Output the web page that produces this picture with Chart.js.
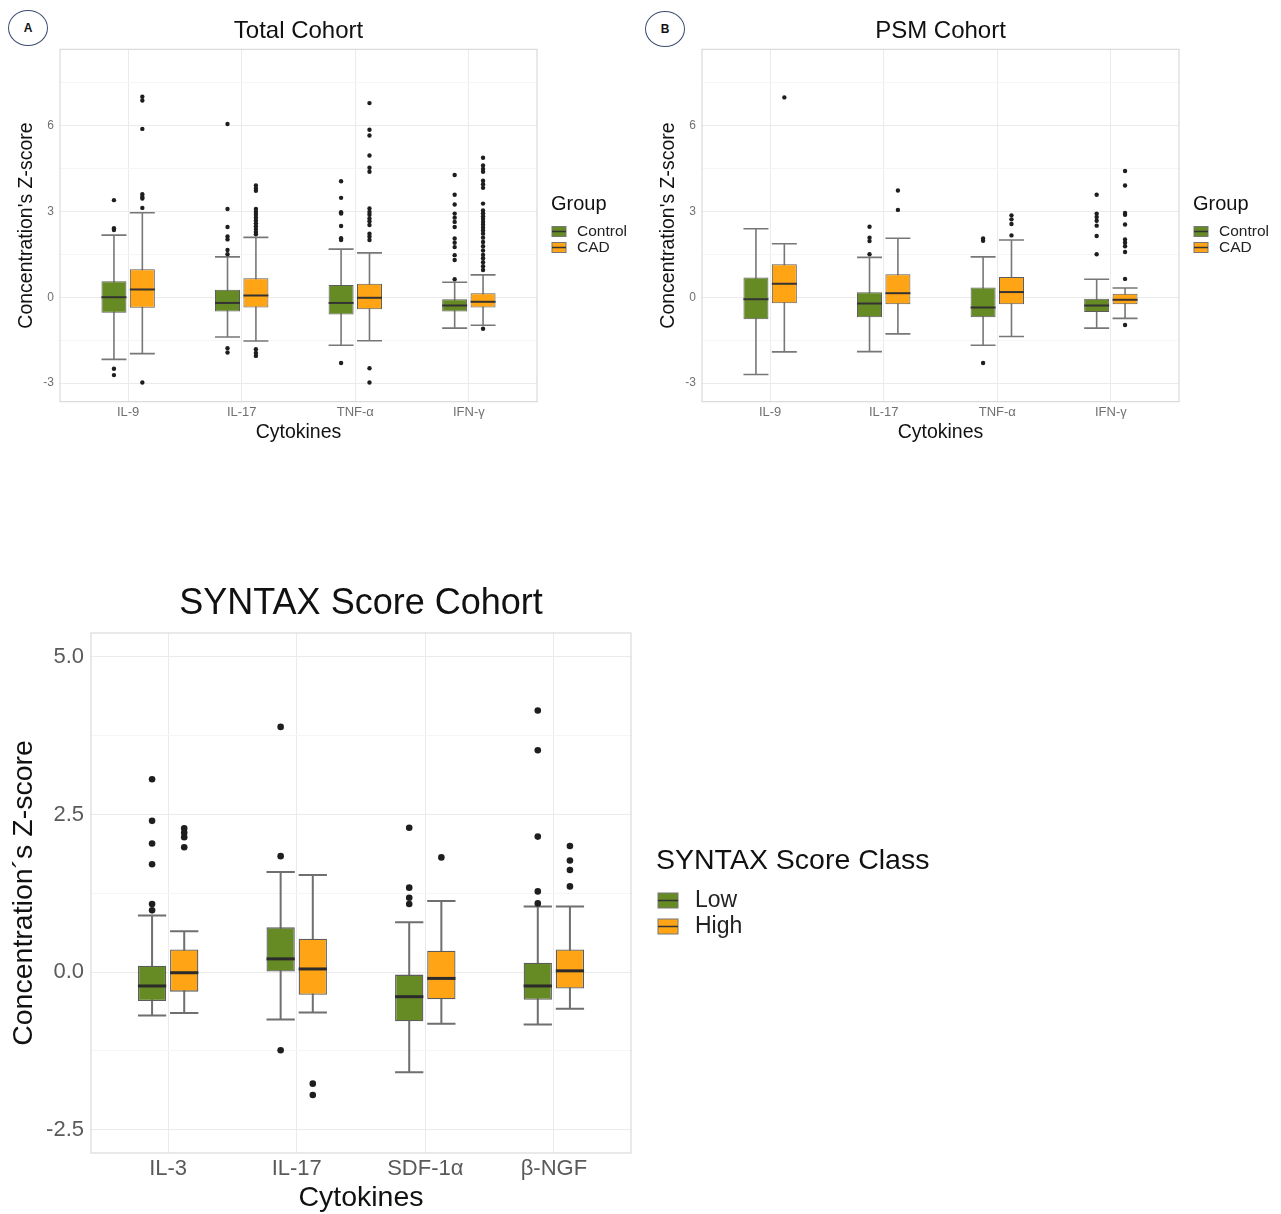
<!DOCTYPE html>
<html>
<head>
<meta charset="utf-8">
<title>Cytokine Z-scores</title>
<script src="https://cdn.jsdelivr.net/npm/chart.js@4.4.0/dist/chart.umd.min.js"></script>
<style>
  body { margin: 0; background: #fff; width: 1281px; height: 1214px; position: relative; overflow: hidden; }
  .panel { position: absolute; }
  .panel canvas { display: block; }
  .tag {
    position: absolute; box-sizing: border-box; width: 40px; height: 36px;
    border: 1.4px solid #3e4d70; border-radius: 50%;
    font: bold 12px "Liberation Sans", Arial, sans-serif; color: #111;
    display: flex; align-items: center; justify-content: center;
  }
</style>
</head>
<body>
<div class="tag" style="left:8px;top:10px">A</div>
<div class="tag" style="left:645px;top:11px">B</div>
<div class="panel" style="left:0;top:0"><canvas id="totalChart" width="640" height="450"></canvas></div>
<div class="panel" style="left:642px;top:0"><canvas id="psmChart" width="639" height="450"></canvas></div>
<div class="panel" style="left:0;top:560px"><canvas id="syntaxChart" width="1000" height="654"></canvas></div>

<script>
const cohortCytokines = ['IL-9', 'IL-17', 'TNF-α', 'IFN-γ'];
const syntaxCytokines = ['IL-3', 'IL-17', 'SDF-1α', 'β-NGF'];

// y ticks (grid lines) and the ones that get a label
const cohortTicks = [-3, -1.5, 0, 1.5, 3, 4.5, 6, 7.5];
const cohortMajor = [-3, 0, 3, 6];
const syntaxTicks = [-2.5, -1.25, 0, 1.25, 2.5, 3.75, 5];
const syntaxMajor = [-2.5, 0, 2.5, 5];

// each cytokine: [lower whisker, Q1, median, Q3, upper whisker]
const totalControl = [
  [-2.17, -0.54, 0.0, 0.56, 2.17],
  [-1.39, -0.5, -0.2, 0.26, 1.41],
  [-1.68, -0.6, -0.2, 0.43, 1.68],
  [-1.08, -0.5, -0.29, -0.07, 0.52]
];
const totalControlOut = [
  [3.39, 2.41, 2.35, -2.5, -2.72],
  [6.05, 3.08, 2.45, 2.12, 2.02, 1.65, 1.5, -1.78, -1.93],
  [4.05, 3.47, 2.97, 2.92, 2.49, 2.06, 2.0, -2.3],
  [4.27, 3.58, 3.24, 2.92, 2.78, 2.63, 2.45, 2.05, 1.9, 1.75, 1.47, 1.3, 0.63]
];
const totalCad = [
  [-1.97, -0.37, 0.27, 0.98, 2.95],
  [-1.53, -0.36, 0.06, 0.66, 2.09],
  [-1.52, -0.42, -0.02, 0.47, 1.55],
  [-0.98, -0.36, -0.16, 0.14, 0.78]
];
const totalCadOut = [
  [7.0, 6.87, 5.88, 3.6, 3.5, 3.45, 3.12, -2.98],
  [3.9, 3.8, 3.72, 3.08, 2.98, 2.88, 2.78, 2.68, 2.58, 2.48, 2.38, 2.28, 2.2, -1.82, -1.95, -2.05],
  [6.78, 5.85, 5.65, 4.95, 4.52, 4.38, 3.1, 2.98, 2.88, 2.75, 2.65, 2.52, 2.22, 2.12, 2.0, -2.48, -2.98],
  [4.87, 4.6, 4.48, 4.38, 4.07, 3.95, 3.82, 3.27, 3.03, 2.93, 2.83, 2.73, 2.63, 2.53, 2.43, 2.33, 2.22,
   2.08, 1.93, 1.78, 1.63, 1.48, 1.36, 1.22, 1.08, 0.95, -1.1]
];

const psmControl = [
  [-2.7, -0.77, -0.07, 0.69, 2.39],
  [-1.9, -0.7, -0.22, 0.17, 1.39],
  [-1.68, -0.7, -0.36, 0.34, 1.41],
  [-1.08, -0.52, -0.29, -0.05, 0.63]
];
const psmControlOut = [
  [],
  [2.46, 2.08, 1.96, 1.5],
  [2.05, 1.97, -2.3],
  [3.58, 2.92, 2.8, 2.67, 2.5, 2.14, 1.5]
];
const psmCad = [
  [-1.91, -0.21, 0.47, 1.15, 1.87],
  [-1.28, -0.25, 0.14, 0.8, 2.06],
  [-1.37, -0.25, 0.18, 0.71, 2.0],
  [-0.74, -0.25, -0.09, 0.12, 0.32]
];
const psmCadOut = [
  [6.98],
  [3.73, 3.05],
  [2.86, 2.72, 2.56, 2.16],
  [4.41, 3.9, 2.94, 2.88, 2.54, 2.02, 1.9, 1.78, 1.58, 0.64, -0.97]
];

const syntaxLow = [
  [-0.69, -0.46, -0.22, 0.1, 0.9],
  [-0.75, 0.01, 0.21, 0.71, 1.59],
  [-1.59, -0.78, -0.39, -0.04, 0.79],
  [-0.83, -0.44, -0.22, 0.15, 1.04]
];
const syntaxLowOut = [
  [3.06, 2.4, 2.04, 1.71, 1.08, 0.98],
  [3.89, 1.84, -1.24],
  [2.29, 1.34, 1.18, 1.08],
  [4.15, 3.52, 2.15, 1.28, 1.09]
];
const syntaxHigh = [
  [-0.65, -0.31, -0.01, 0.36, 0.65],
  [-0.64, -0.36, 0.05, 0.53, 1.54],
  [-0.82, -0.43, -0.1, 0.34, 1.13],
  [-0.58, -0.26, 0.02, 0.36, 1.04]
];
const syntaxHighOut = [
  [2.28, 2.21, 2.14, 1.98],
  [-1.77, -1.95],
  [1.82],
  [2.0, 1.77, 1.62, 1.36]
];

const GREEN = '#668a24';
const ORANGE = '#ffa515';
const FONT = '"Liberation Sans", Arial, sans-serif';

Chart.defaults.font.family = FONT;

// whiskers behind the boxes, medians + outliers on top, plus the panel border
const boxParts = {
  id: 'boxParts',
  beforeDatasetsDraw(chart, args, o) {
    const ctx = chart.ctx;
    const y = chart.scales.y;
    const a = chart.chartArea;
    ctx.save();
    ctx.strokeStyle = '#d3d3d3';
    ctx.lineWidth = 1;
    ctx.strokeRect(a.left, a.top, a.right - a.left, a.bottom - a.top);
    ctx.strokeStyle = o.whiskerColor;
    ctx.lineWidth = o.whiskerWidth;
    chart.data.datasets.forEach((ds, di) => {
      chart.getDatasetMeta(di).data.forEach((bar, i) => {
        const s = ds.summary[i];
        const half = bar.width / 2;
        const lo = y.getPixelForValue(s[0]);
        const hi = y.getPixelForValue(s[4]);
        ctx.beginPath();
        ctx.moveTo(bar.x, lo); ctx.lineTo(bar.x, hi);
        ctx.moveTo(bar.x - half, lo); ctx.lineTo(bar.x + half, lo);
        ctx.moveTo(bar.x - half, hi); ctx.lineTo(bar.x + half, hi);
        ctx.stroke();
      });
    });
    ctx.restore();
  },
  afterDatasetsDraw(chart, args, o) {
    const ctx = chart.ctx;
    const y = chart.scales.y;
    ctx.save();
    chart.data.datasets.forEach((ds, di) => {
      chart.getDatasetMeta(di).data.forEach((bar, i) => {
        const half = bar.width / 2;
        const my = y.getPixelForValue(ds.summary[i][2]);
        ctx.strokeStyle = o.medianColor;
        ctx.lineWidth = o.medianWidth;
        ctx.beginPath();
        ctx.moveTo(bar.x - half, my); ctx.lineTo(bar.x + half, my);
        ctx.stroke();
        ctx.fillStyle = '#1e1e1e';
        ds.outliers[i].forEach(v => {
          ctx.beginPath();
          ctx.arc(bar.x, y.getPixelForValue(v), o.pointRadius, 0, Math.PI * 2);
          ctx.fill();
        });
      });
    });
    ctx.restore();
  }
};

// ggplot-like legend at the right of the panel
const sideLegend = {
  id: 'sideLegend',
  afterDraw(chart, args, o) {
    const ctx = chart.ctx;
    const a = chart.chartArea;
    const x0 = a.right + o.gap;
    const cy = (a.top + a.bottom) / 2;
    ctx.save();
    ctx.textAlign = 'left';
    ctx.textBaseline = 'middle';
    ctx.fillStyle = '#111';
    ctx.font = o.titleSize + 'px ' + FONT;
    ctx.fillText(o.title, x0, cy + o.titleDy);
    chart.data.datasets.forEach((ds, i) => {
      const yy = cy + o.itemDy + i * o.itemStep;
      const kx = x0 + o.keyDx;
      ctx.fillStyle = ds.backgroundColor;
      ctx.fillRect(kx, yy - o.keyH / 2, o.keyW, o.keyH);
      ctx.strokeStyle = '#777';
      ctx.lineWidth = 1;
      ctx.strokeRect(kx, yy - o.keyH / 2, o.keyW, o.keyH);
      ctx.strokeStyle = '#333';
      ctx.lineWidth = 1.5;
      ctx.beginPath();
      ctx.moveTo(kx, yy); ctx.lineTo(kx + o.keyW, yy);
      ctx.stroke();
      ctx.fillStyle = '#222';
      ctx.font = o.labelSize + 'px ' + FONT;
      ctx.fillText(ds.label, x0 + o.textDx, yy);
    });
    ctx.restore();
  }
};

function buildChart(id, p) {
  return new Chart(document.getElementById(id), {
    type: 'bar',
    data: {
      datasets: p.groups.map(g => ({
        label: g.label,
        data: g.summary.map((s, i) => ({ x: i, y: [s[1], s[3]] })),
        summary: g.summary,
        outliers: g.outliers,
        backgroundColor: g.color,
        borderColor: '#5c5c5c',
        borderWidth: p.boxBorder,
        borderSkipped: false,
        categoryPercentage: 0.5,
        barPercentage: 0.88
      }))
    },
    options: {
      responsive: false,
      animation: false,
      events: [],
      layout: { padding: { left: 0, right: p.padRight, top: 0, bottom: 0 } },
      plugins: {
        legend: { display: false },
        tooltip: { enabled: false },
        title: {
          display: true, text: p.title, color: '#111', fullSize: false,
          font: { size: p.titleSize, weight: 'normal' }, padding: p.titlePadding
        },
        boxParts: p.boxStyle,
        sideLegend: p.legend
      },
      scales: {
        x: {
          type: 'linear', offset: false, min: -0.6, max: p.categories.length - 0.4,
          afterBuildTicks: s => { s.ticks = p.categories.map((c, i) => ({ value: i })); },
          afterFit: s => { s.height = p.xHeight; },
          ticks: { callback: v => p.categories[v], color: p.tickColor, font: { size: p.tickSize }, padding: p.xTickPad },
          grid: { color: '#ebebeb', drawTicks: false, offset: false },
          border: { display: false },
          title: { display: true, text: 'Cytokines', color: '#111', font: { size: p.axisTitleSize }, padding: p.xTitlePadding }
        },
        y: {
          min: p.yMin, max: p.yMax,
          afterBuildTicks: s => { s.ticks = p.yTicks.map(v => ({ value: v })); },
          afterFit: s => { s.width = p.yWidth; },
          ticks: {
            callback: v => p.yMajor.includes(v) ? p.fmt(v) : '',
            color: p.tickColor, font: { size: p.yTickSize }, padding: p.yTickPad
          },
          grid: { color: c => p.yMajor.includes(c.tick.value) ? '#ebebeb' : '#f5f5f5', drawTicks: false },
          border: { display: false },
          title: { display: true, text: p.yTitle, color: '#111', font: { size: p.axisTitleSize }, padding: p.yTitlePadding }
        }
      }
    },
    plugins: [boxParts, sideLegend]
  });
}

const cohortLayout = {
  categories: cohortCytokines,
  yMin: -3.65, yMax: 8.66, yTicks: cohortTicks, yMajor: cohortMajor, fmt: v => String(v),
  yTitle: "Concentration's Z-score",
  titleSize: 24, titlePadding: { top: 16.6, bottom: 3.9 },
  tickSize: 13, yTickSize: 12, tickColor: '#707070', axisTitleSize: 19.5,
  xHeight: 48.3, xTickPad: 2.5, xTitlePadding: { top: 0, bottom: 5.5 },
  yWidth: 60, yTickPad: 6, yTitlePadding: { top: 15.3, bottom: 0 },
  boxBorder: 1,
  boxStyle: { whiskerColor: '#777', whiskerWidth: 1.6, medianColor: '#333', medianWidth: 2, pointRadius: 2.2 },
  legend: { title: 'Group', titleSize: 20, labelSize: 15.5, gap: 14, titleDy: -21, itemDy: 6, itemStep: 16,
            keyDx: 1, keyW: 14, keyH: 10, textDx: 26 }
};

buildChart('totalChart', Object.assign({}, cohortLayout, {
  title: 'Total Cohort', padRight: 103,
  groups: [
    { label: 'Control', color: GREEN, summary: totalControl, outliers: totalControlOut },
    { label: 'CAD', color: ORANGE, summary: totalCad, outliers: totalCadOut }
  ]
}));

buildChart('psmChart', Object.assign({}, cohortLayout, {
  title: 'PSM Cohort', padRight: 102,
  groups: [
    { label: 'Control', color: GREEN, summary: psmControl, outliers: psmControlOut },
    { label: 'CAD', color: ORANGE, summary: psmCad, outliers: psmCadOut }
  ]
}));

buildChart('syntaxChart', {
  title: 'SYNTAX Score Cohort', padRight: 369,
  categories: syntaxCytokines,
  yMin: -2.87, yMax: 5.38, yTicks: syntaxTicks, yMajor: syntaxMajor, fmt: v => v.toFixed(1),
  yTitle: 'Concentration´s Z-score',
  titleSize: 36, titlePadding: { top: 22.4, bottom: 7.4 },
  tickSize: 22, yTickSize: 22, tickColor: '#5a5a5a', axisTitleSize: 28.5,
  xHeight: 61, xTickPad: 3, xTitlePadding: { top: 0, bottom: -1.2 },
  yWidth: 91, yTickPad: 7, yTitlePadding: { top: 6.6, bottom: 0 },
  boxBorder: 1.3,
  boxStyle: { whiskerColor: '#6f6f6f', whiskerWidth: 2, medianColor: '#2b2b2b', medianWidth: 3, pointRadius: 3.3 },
  legend: { title: 'SYNTAX Score Class', titleSize: 28.5, labelSize: 23, gap: 25, titleDy: -31.5, itemDy: 7.5, itemStep: 26,
            keyDx: 2, keyW: 20, keyH: 15, textDx: 39 },
  groups: [
    { label: 'Low', color: GREEN, summary: syntaxLow, outliers: syntaxLowOut },
    { label: 'High', color: ORANGE, summary: syntaxHigh, outliers: syntaxHighOut }
  ]
});
</script>
</body>
</html>
